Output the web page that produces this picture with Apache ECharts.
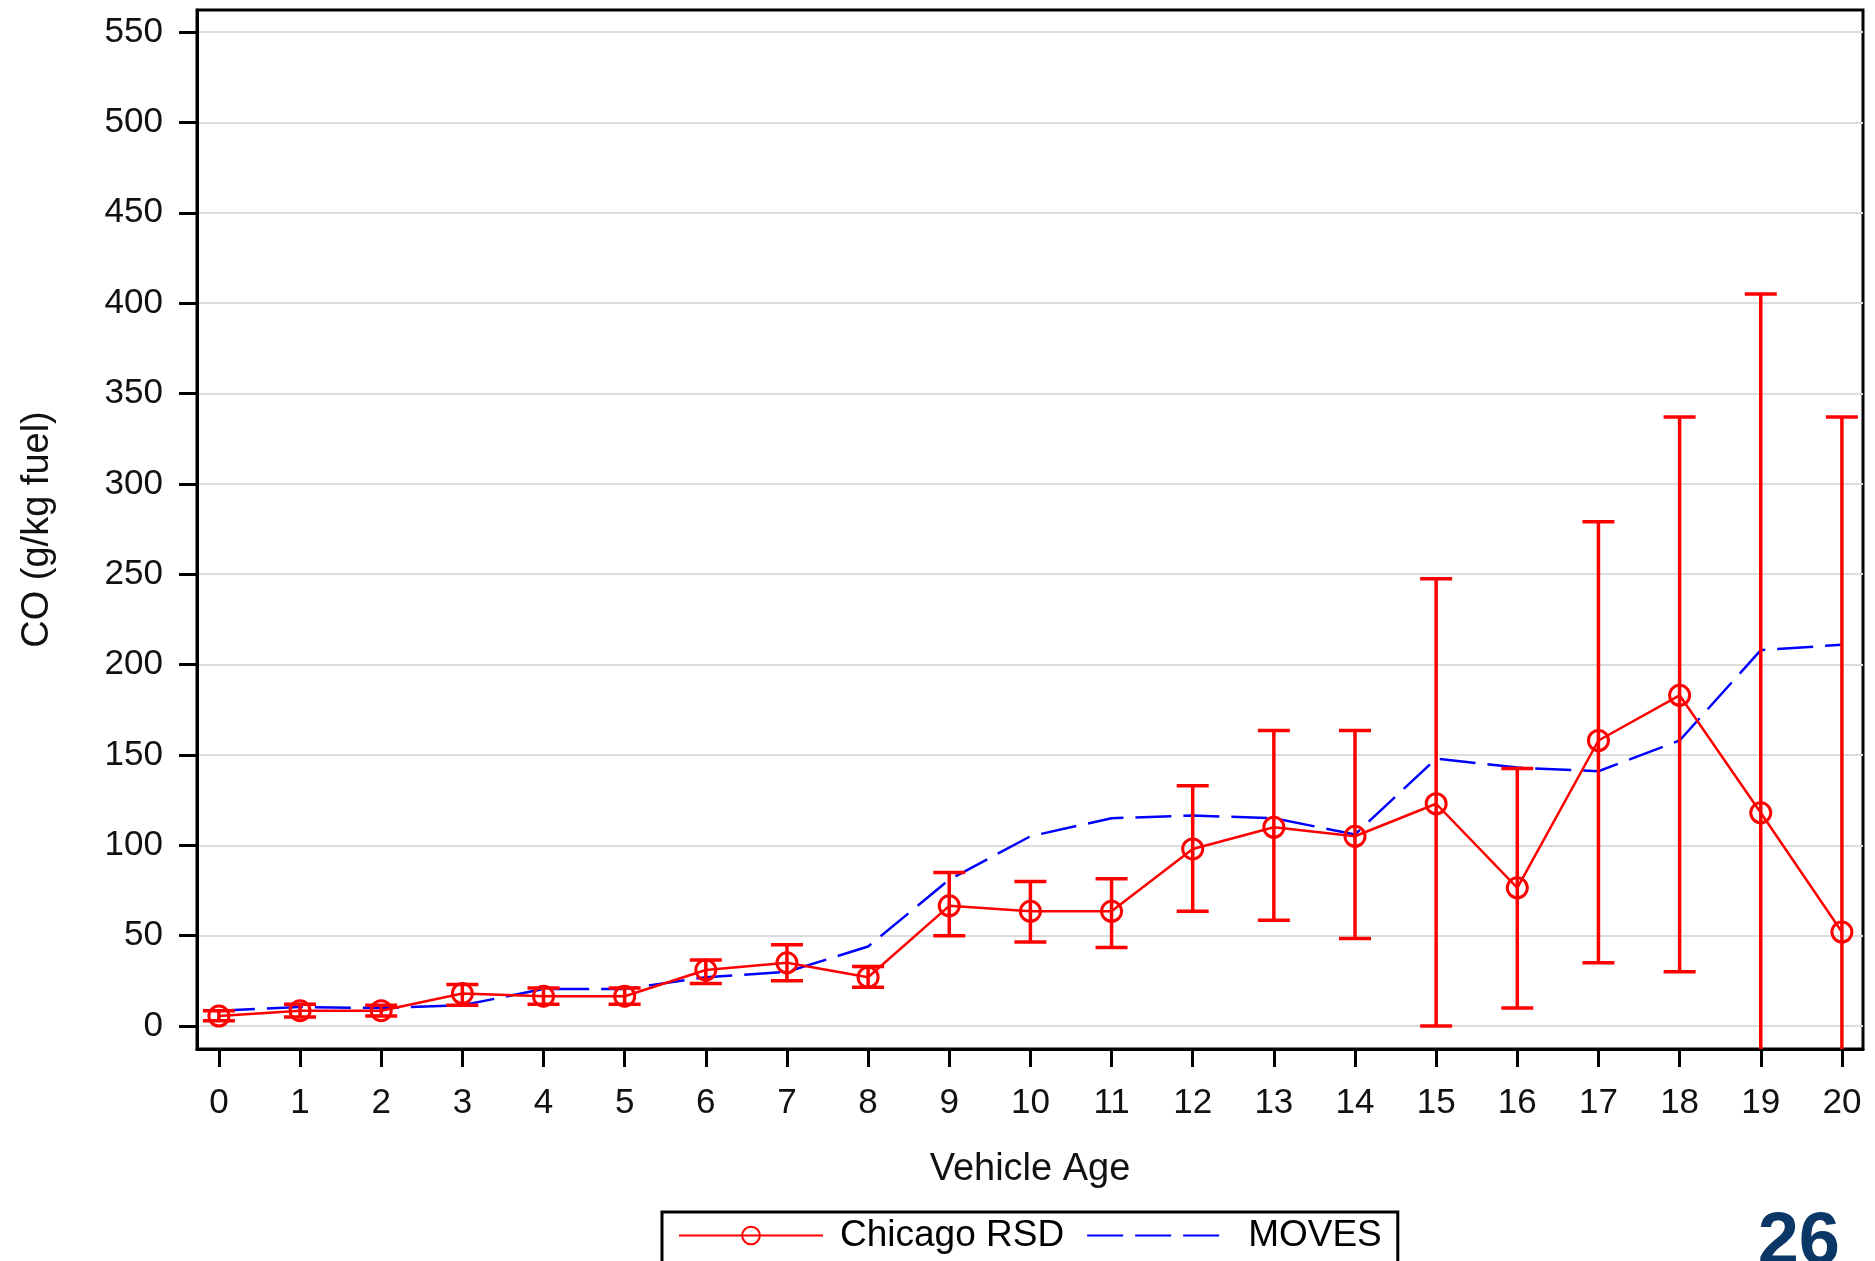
<!DOCTYPE html>
<html>
<head>
<meta charset="utf-8">
<script src="https://cdn.jsdelivr.net/npm/echarts@6/dist/echarts.min.js"></script>
<style>
  html, body { margin: 0; padding: 0; background: #fff; }
  #chart { width: 1875px; height: 1261px; }
</style>
</head>
<body>
<div id="chart"></div>
<script>
// vehicle age 0..20
const ages = [0, 1, 2, 3, 4, 5, 6, 7, 8, 9, 10, 11, 12, 13, 14, 15, 16, 17, 18, 19, 20]

// Chicago RSD mean CO (g/kg fuel) with confidence limits
const rsdMean = [5.5, 8.5, 8.5, 18, 16.5, 16.5, 31, 35, 27, 66.5, 63.5, 63.5, 98, 110, 105, 123, 76.5, 158, 183, 118, 52]
const rsdLow = [3, 5, 5.5, 11.5, 12, 12, 23.5, 25, 21.5, 50, 46.5, 43.5, 63.5, 58.5, 48.5, 0, 10, 35, 30, -169, -233]
const rsdHigh = [8.5, 12, 11.5, 23, 21, 21, 36.5, 45, 33, 85, 80, 81.5, 133, 163.5, 163.5, 247.5, 142.5, 279, 337, 405, 337]

// MOVES model estimate
const moves = [8.5, 10.5, 10, 11.5, 20.5, 20.5, 27, 30, 44, 81, 105, 115, 116.5, 115, 106, 148, 143, 141, 158, 208, 211]

const yTicks = [0, 50, 100, 150, 200, 250, 300, 350, 400, 450, 500, 550]

const chart = echarts.init(document.getElementById('chart'))

const font = "'Liberation Sans', Arial, sans-serif"

function renderErrorBar(params, api) {
  const x = api.value(0)
  const lo = api.coord([x, api.value(1)])
  const hi = api.coord([x, api.value(2)])
  const w = 16
  const style = { stroke: '#ff0000', lineWidth: 3.5 }
  return {
    type: 'group',
    children: [
      { type: 'line', shape: { x1: hi[0], y1: hi[1], x2: lo[0], y2: lo[1] }, style: style },
      { type: 'line', shape: { x1: hi[0] - w, y1: hi[1], x2: hi[0] + w, y2: hi[1] }, style: style },
      { type: 'line', shape: { x1: lo[0] - w, y1: lo[1], x2: lo[0] + w, y2: lo[1] }, style: style }
    ]
  }
}

const option = {
  animation: false,
  backgroundColor: '#fff',
  grid: {
    left: 197,
    right: 12,
    top: 10,
    bottom: 212,
    show: true,
    borderColor: '#000',
    borderWidth: 3,
    outerBoundsMode: 'none'
  },
  legend: {
    left: 662,
    top: 1212,
    orient: 'horizontal',
    borderColor: '#000',
    borderWidth: 3,
    padding: [5, 16, 40, 16],
    itemWidth: 144,
    itemHeight: 22,
    itemGap: 22,
    textStyle: { fontFamily: font, fontSize: 37, color: '#000', padding: [0, 0, 0, 12] },
    data: [
      { name: 'Chicago RSD' },
      { name: 'MOVES', itemStyle: { opacity: 0 } }
    ]
  },
  xAxis: {
    type: 'value',
    min: -0.27,
    max: 20.26,
    name: 'Vehicle Age',
    nameLocation: 'middle',
    nameGap: 102,
    nameTextStyle: { fontFamily: font, fontSize: 38, color: '#111' },
    axisLine: { show: true, onZero: false, lineStyle: { color: '#000', width: 3 } },
    axisTick: { show: true, length: 18, lineStyle: { color: '#000', width: 3 }, customValues: ages },
    axisLabel: { fontFamily: font, fontSize: 35, color: '#111', margin: 37, customValues: ages },
    splitLine: { show: false }
  },
  yAxis: {
    type: 'value',
    min: -12.7,
    max: 562.2,
    name: 'CO (g/kg fuel)',
    nameLocation: 'middle',
    nameGap: 140,
    nameTextStyle: { fontFamily: font, fontSize: 38, color: '#111' },
    axisLine: { show: true, onZero: false, lineStyle: { color: '#000', width: 3 } },
    axisTick: { show: true, length: 18, lineStyle: { color: '#000', width: 3 }, customValues: yTicks },
    axisLabel: { fontFamily: font, fontSize: 35, color: '#111', margin: 34, customValues: yTicks },
    splitLine: { show: true, lineStyle: { color: '#dcdcdc', width: 2 } }
  },
  series: [
    {
      name: 'Chicago RSD CL',
      type: 'custom',
      clip: true,
      z: 3,
      renderItem: renderErrorBar,
      data: ages.map((a, i) => [a, rsdLow[i], rsdHigh[i]])
    },
    {
      name: 'MOVES',
      type: 'line',
      z: 2,
      symbol: 'none',
      color: '#0000ff',
      lineStyle: { color: '#0000ff', width: 2.5, type: [36, 12] },
      data: ages.map((a, i) => [a, moves[i]])
    },
    {
      name: 'Chicago RSD',
      type: 'line',
      z: 4,
      symbol: 'circle',
      symbolSize: 20,
      color: '#ff0000',
      itemStyle: { color: 'rgba(255,0,0,0)', borderColor: '#ff0000', borderWidth: 3 },
      lineStyle: { color: '#ff0000', width: 2.5 },
      data: ages.map((a, i) => [a, rsdMean[i]])
    }
  ],
  graphic: [
    {
      type: 'text',
      right: 35,
      top: 1207,
      style: { text: '26', fontFamily: font, fontWeight: 'bold', fontSize: 74, fill: '#0b3766' }
    }
  ]
}

chart.setOption(option)
</script>
</body>
</html>
